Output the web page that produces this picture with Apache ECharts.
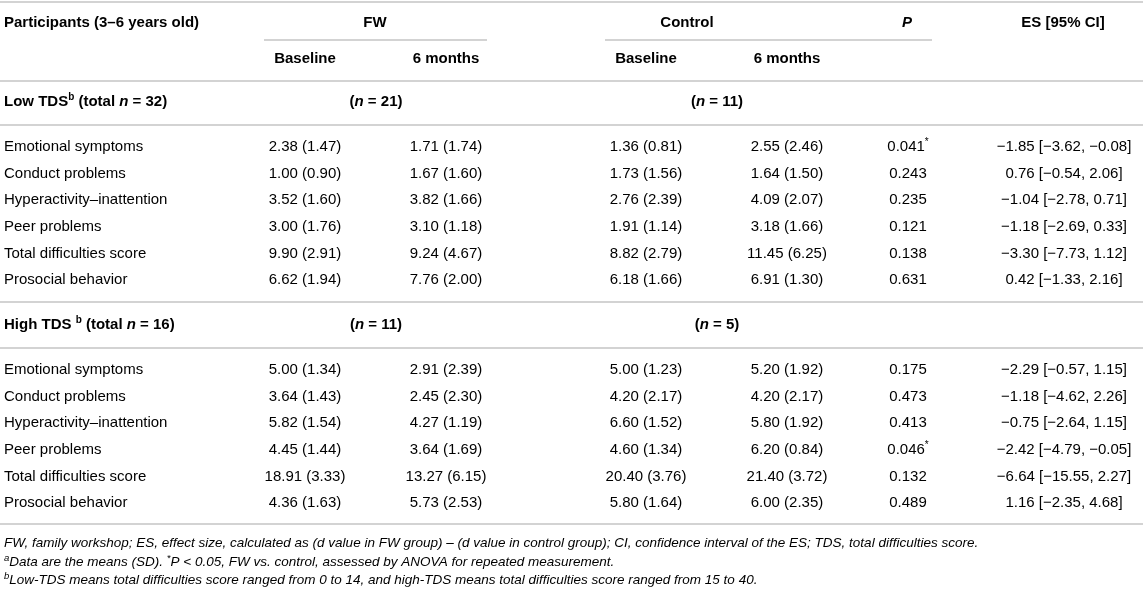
<!DOCTYPE html>
<html>
<head>
<meta charset="utf-8">
<script src="https://cdn.jsdelivr.net/npm/echarts@6/dist/echarts.min.js"></script>
<style>
html, body { margin: 0; padding: 0; background: #fff; }
#table { width: 1143px; height: 589px; }
</style>
</head>
<body>
<div id="table"></div>
<script>
// rows of the table
var measures = ['Emotional symptoms', 'Conduct problems', 'Hyperactivity–inattention',
    'Peer problems', 'Total difficulties score', 'Prosocial behavior'];

// low TDS group, [mean, sd]
var lowFwBase = [[2.38, 1.47], [1.00, 0.90], [3.52, 1.60], [3.00, 1.76], [9.90, 2.91], [6.62, 1.94]];
var lowFw6m   = [[1.71, 1.74], [1.67, 1.60], [3.82, 1.66], [3.10, 1.18], [9.24, 4.67], [7.76, 2.00]];
var lowCtBase = [[1.36, 0.81], [1.73, 1.56], [2.76, 2.39], [1.91, 1.14], [8.82, 2.79], [6.18, 1.66]];
var lowCt6m   = [[2.55, 2.46], [1.64, 1.50], [4.09, 2.07], [3.18, 1.66], [11.45, 6.25], [6.91, 1.30]];
var lowP      = [0.041, 0.243, 0.235, 0.121, 0.138, 0.631];
// [es, lower, upper]
var lowEs     = [[-1.85, -3.62, -0.08], [0.76, -0.54, 2.06], [-1.04, -2.78, 0.71],
                 [-1.18, -2.69, 0.33], [-3.30, -7.73, 1.12], [0.42, -1.33, 2.16]];

// high TDS group
var highFwBase = [[5.00, 1.34], [3.64, 1.43], [5.82, 1.54], [4.45, 1.44], [18.91, 3.33], [4.36, 1.63]];
var highFw6m   = [[2.91, 2.39], [2.45, 2.30], [4.27, 1.19], [3.64, 1.69], [13.27, 6.15], [5.73, 2.53]];
var highCtBase = [[5.00, 1.23], [4.20, 2.17], [6.60, 1.52], [4.60, 1.34], [20.40, 3.76], [5.80, 1.64]];
var highCt6m   = [[5.20, 1.92], [4.20, 2.17], [5.80, 1.92], [6.20, 0.84], [21.40, 3.72], [6.00, 2.35]];
var highP      = [0.175, 0.473, 0.413, 0.046, 0.132, 0.489];
var highEs     = [[-2.29, -0.57, 1.15], [-1.18, -4.62, 2.26], [-0.75, -2.64, 1.15],
                  [-2.42, -4.79, -0.05], [-6.64, -15.55, 2.27], [1.16, -2.35, 4.68]];

// group sizes
var totalN = [32, 16];
var fwN = [21, 11];
var ctN = [11, 5];

// layout (pixels of the grid)
var colX = { label: 4, fwBase: 305, fw6: 446, ctBase: 646, ct6: 787, p: 908, es: 1064 };
var headX = { fw: 375, ctrl: 687, p: 907, es: 1063, fwN: 376, ctN: 717 };
var headY = [23, 59];
var groupY = [102, 325];
var firstRowY = [147, 370];
var rowStep = 26.6;
var footY = [543, 562, 580];
var fullRules = [2, 81, 125, 302, 348, 524];
var partRules = [[264, 487, 40], [605, 932, 40]];

function num(v) {
    return (v < 0 ? '−' : '') + Math.abs(v).toFixed(2);
}
function meanSd(d) {
    return num(d[0]) + ' (' + d[1].toFixed(2) + ')';
}
function pText(p) {
    return p < 0.05 ? '{r|' + p.toFixed(3) + '}{star|*}' : '{r|' + p.toFixed(3) + '}';
}
function esText(e) {
    return num(e[0]) + ' [' + num(e[1]) + ', ' + num(e[2]) + ']';
}

// cells: [x, y, rich text, align]
var cells = [];
cells.push([colX.label, headY[0], '{b|Participants (3–6 years old)}', 'left']);
cells.push([headX.fw, headY[0], '{b|FW}', 'center']);
cells.push([headX.ctrl, headY[0], '{b|Control}', 'center']);
cells.push([headX.p, headY[0], '{bi|P}', 'center']);
cells.push([headX.es, headY[0], '{b|ES [95% CI]}', 'center']);
cells.push([colX.fwBase, headY[1], '{b|Baseline}', 'center']);
cells.push([colX.fw6, headY[1], '{b|6 months}', 'center']);
cells.push([colX.ctBase, headY[1], '{b|Baseline}', 'center']);
cells.push([colX.ct6, headY[1], '{b|6 months}', 'center']);

var groups = [
    { name: 'Low TDS', gap: '', fwBase: lowFwBase, fw6: lowFw6m, ctBase: lowCtBase, ct6: lowCt6m, p: lowP, es: lowEs },
    { name: 'High TDS', gap: ' ', fwBase: highFwBase, fw6: highFw6m, ctBase: highCtBase, ct6: highCt6m, p: highP, es: highEs }
];
groups.forEach(function (g, gi) {
    cells.push([colX.label, groupY[gi], '{b|' + g.name + g.gap + '}{bsup|b}{b| (total }{bi|n}{b| = ' + totalN[gi] + ')}', 'left']);
    cells.push([headX.fwN, groupY[gi], '{b|(}{bi|n}{b| = ' + fwN[gi] + ')}', 'center']);
    cells.push([headX.ctN, groupY[gi], '{b|(}{bi|n}{b| = ' + ctN[gi] + ')}', 'center']);
    measures.forEach(function (m, i) {
        var y = firstRowY[gi] + i * rowStep;
        cells.push([colX.label, y, '{r|' + m + '}', 'left']);
        cells.push([colX.fwBase, y, '{r|' + meanSd(g.fwBase[i]) + '}', 'center']);
        cells.push([colX.fw6, y, '{r|' + meanSd(g.fw6[i]) + '}', 'center']);
        cells.push([colX.ctBase, y, '{r|' + meanSd(g.ctBase[i]) + '}', 'center']);
        cells.push([colX.ct6, y, '{r|' + meanSd(g.ct6[i]) + '}', 'center']);
        cells.push([colX.p, y, pText(g.p[i]), 'center']);
        cells.push([colX.es, y, '{r|' + esText(g.es[i]) + '}', 'center']);
    });
});

cells.push([colX.label, footY[0], '{f|FW, family workshop; ES, effect size, calculated as (d value in FW group) – (d value in control group); CI, confidence interval of the ES; TDS, total difficulties score.}', 'left']);
cells.push([colX.label, footY[1], '{fsup|a}{f|Data are the means (SD). }{fsup|*}{f|P < 0.05, FW vs. control, assessed by ANOVA for repeated measurement.}', 'left']);
cells.push([colX.label, footY[2], '{fsup|b}{f|Low-TDS means total difficulties score ranged from 0 to 14, and high-TDS means total difficulties score ranged from 15 to 40.}', 'left']);

var rules = [];
fullRules.forEach(function (y) { rules.push([0, 1143, y]); });
partRules.forEach(function (r) { rules.push(r); });

var font = 'Liberation Sans, Arial, sans-serif';
var ink = '#333';
var rich = {
    r: { fontSize: 15, fontFamily: font, color: ink, lineHeight: 19 },
    b: { fontSize: 15, fontFamily: font, fontWeight: 'bold', color: '#222', lineHeight: 19 },
    bi: { fontSize: 15, fontFamily: font, fontWeight: 'bold', fontStyle: 'italic', color: '#222', lineHeight: 19 },
    bsup: { fontSize: 10, fontFamily: font, fontWeight: 'bold', color: '#222', lineHeight: 19, verticalAlign: 'top' },
    star: { fontSize: 10, fontFamily: font, color: ink, lineHeight: 19, verticalAlign: 'top' },
    f: { fontSize: 13.5, fontFamily: font, fontStyle: 'italic', color: ink, lineHeight: 17 },
    fsup: { fontSize: 9.5, fontFamily: font, fontStyle: 'italic', color: ink, lineHeight: 17, verticalAlign: 'top' }
};

var myChart = echarts.init(document.getElementById('table'));
var option = {
    animation: false,
    grid: { left: 0, right: 0, top: 0, bottom: 0 },
    xAxis: { type: 'value', min: 0, max: 1143, show: false },
    yAxis: { type: 'value', min: 0, max: 589, inverse: true, show: false },
    series: [
        {
            type: 'custom',
            name: 'rules',
            clip: false,
            silent: true,
            data: rules,
            renderItem: function (params, api) {
                var a = api.coord([api.value(0), api.value(2)]);
                var b = api.coord([api.value(1), api.value(2)]);
                return {
                    type: 'line',
                    shape: { x1: a[0], y1: a[1], x2: b[0], y2: b[1] },
                    style: { stroke: '#c4c4c4', lineWidth: 1.5 }
                };
            }
        },
        {
            type: 'custom',
            name: 'cells',
            clip: false,
            silent: true,
            data: cells.map(function (c) { return [c[0], c[1]]; }),
            renderItem: function (params, api) {
                var c = cells[params.dataIndex];
                var pt = api.coord([api.value(0), api.value(1)]);
                return {
                    type: 'text',
                    x: pt[0],
                    y: pt[1],
                    style: {
                        text: c[2],
                        rich: rich,
                        align: c[3],
                        verticalAlign: 'middle'
                    }
                };
            }
        }
    ]
};
myChart.setOption(option);
</script>
</body>
</html>
